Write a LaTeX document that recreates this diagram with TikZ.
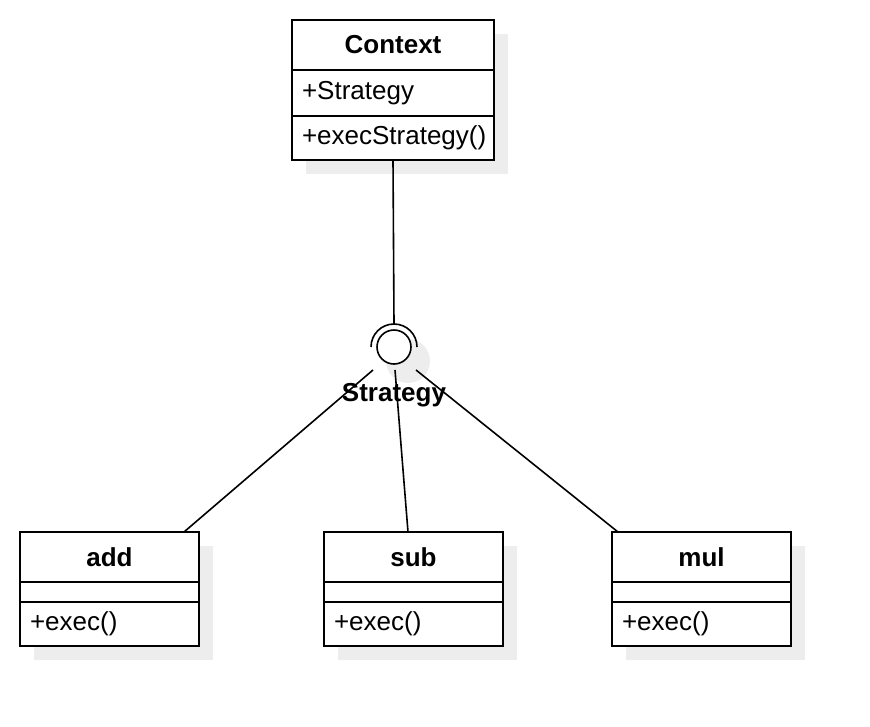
\documentclass[tikz,border=0pt]{standalone}
\usepackage{fontspec}
\setmainfont{Liberation Sans}
\usetikzlibrary{positioning,shadows}

\definecolor{shadowgray}{RGB}{237,237,237}
\def\umlfont{\fontsize{26}{31}\selectfont}

\tikzset{
  umlpart/.style={draw, fill=white, line width=1.6pt, outer sep=0pt,
    inner xsep=10pt, inner ysep=0pt, font=\umlfont,
    drop shadow={shadow xshift=14pt, shadow yshift=-14pt, fill=shadowgray, opacity=1}},
  classhead/.style={umlpart, font=\umlfont\bfseries, minimum height=50pt},
  classrow/.style={umlpart, align=left},
  ball/.style={circle, draw, fill=white, line width=1.6pt, minimum size=34pt, inner sep=0pt},
  link/.style={line width=1.6pt}
}

\begin{document}
\begin{tikzpicture}[x=1pt,y=-1pt]

\useasboundingbox (0,0) rectangle (870,726);

% context class
\node[classhead, minimum width=202pt] (ctx) at (393,45) {Context};
\node[classrow, text width=182pt, minimum height=46pt, below=0pt of ctx] (ctx-attr) {+Strategy};
\node[classrow, text width=182pt, minimum height=44pt, below=0pt of ctx-attr] (ctx-op) {+execStrategy()};

% strategy classes
\node[classhead, minimum width=179pt] (add) at (109.5,557) {add};
\node[classrow, text width=159pt, minimum height=20pt, below=0pt of add] (add-attr) {};
\node[classrow, text width=159pt, minimum height=44pt, below=0pt of add-attr] (add-op) {+exec()};

\node[classhead, minimum width=179pt] (sub) at (413.5,557) {sub};
\node[classrow, text width=159pt, minimum height=20pt, below=0pt of sub] (sub-attr) {};
\node[classrow, text width=159pt, minimum height=44pt, below=0pt of sub-attr] (sub-op) {+exec()};

\node[classhead, minimum width=179pt] (mul) at (701.5,557) {mul};
\node[classrow, text width=159pt, minimum height=20pt, below=0pt of mul] (mul-attr) {};
\node[classrow, text width=159pt, minimum height=44pt, below=0pt of mul-attr] (mul-op) {+exec()};

% interface with socket
\fill[shadowgray] (408,361) circle (22pt);
\node[ball] (iface) at (394,347) {};
\draw[link] (iface.center) ++(-23pt,0) arc[start angle=180, end angle=0, radius=23pt];
\coordinate (socket) at ([yshift=23pt]iface.center);
\node[font=\umlfont\bfseries] (iface-label) at (394,395) {Strategy};

% connectors
\draw[link] (ctx-op.south) -- (socket);
\draw[link] ([shift={(-21pt,-23pt)}]iface.center) -- ([xshift=74.5pt]add.north);
\draw[link] ([shift={(1pt,-23pt)}]iface.center) -- ([xshift=-5.5pt]sub.north);
\draw[link] ([shift={(22pt,-23pt)}]iface.center) -- ([xshift=-83.5pt]mul.north);

\end{tikzpicture}
\end{document}
